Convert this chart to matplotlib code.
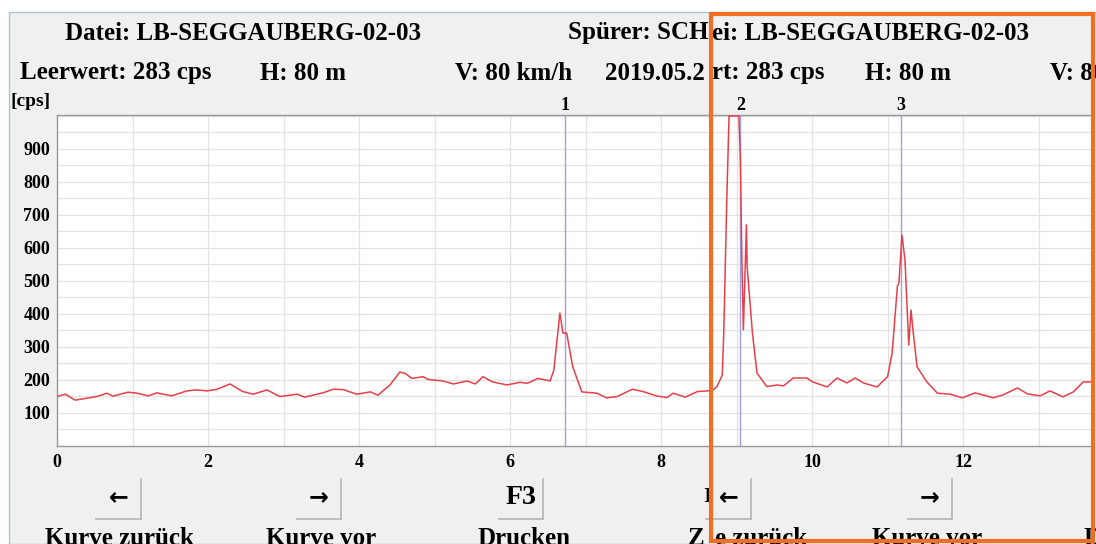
import matplotlib.pyplot as plt
from matplotlib.patches import Rectangle
from matplotlib.lines import Line2D

W, H = 1096, 544

# flight profile: distance [km] vs. counts [cps]
dist_km = [0.00, 0.11, 0.24, 0.40, 0.53, 0.66, 0.74, 0.94, 1.06, 1.21, 1.32, 1.52, 1.72, 1.85,
           1.99, 2.12, 2.29, 2.46, 2.60, 2.78, 2.95, 3.18, 3.28, 3.52, 3.66, 3.79, 3.97, 4.15,
           4.25, 4.41, 4.54, 4.61, 4.70, 4.85, 4.91, 5.11, 5.25, 5.43, 5.54, 5.64, 5.77, 5.96,
           6.13, 6.23, 6.37, 6.53, 6.58, 6.66, 6.70, 6.75, 6.83, 6.95, 7.15, 7.28, 7.42, 7.62,
           7.76, 7.95, 8.08, 8.16, 8.32, 8.48, 8.62, 8.69, 8.74, 8.81, 8.83, 8.87, 8.90, 9.03,
           9.05, 9.07, 9.09, 9.13, 9.14, 9.21, 9.27, 9.40, 9.54, 9.62, 9.75, 9.93, 10.01, 10.20,
           10.33, 10.46, 10.57, 10.68, 10.77, 10.86, 11.00, 11.06, 11.13, 11.15, 11.19, 11.23,
           11.28, 11.31, 11.34, 11.39, 11.52, 11.66, 11.83, 11.99, 12.16, 12.40, 12.53, 12.72,
           12.85, 13.02, 13.15, 13.32, 13.46, 13.59, 13.71]
cps = [150, 157, 139, 145, 150, 160, 151, 163, 160, 152, 161, 152, 167, 170,
       167, 172, 188, 165, 157, 170, 150, 157, 148, 161, 172, 171, 157, 164,
       154, 185, 224, 220, 205, 210, 202, 197, 188, 197, 188, 210, 194, 185,
       193, 190, 205, 197, 230, 403, 342, 342, 240, 164, 160, 146, 150, 172,
       165, 151, 147, 160, 148, 165, 167, 170, 180, 215, 342, 745, 1000, 1000,
       867, 564, 352, 670, 543, 342, 221, 180, 185, 182, 206, 206, 194, 179,
       206, 191, 206, 191, 185, 179, 210, 282, 485, 494, 639, 564,
       306, 412, 342, 240, 194, 160, 157, 146, 161, 146, 155, 176,
       158, 152, 167, 149, 164, 194, 194]

marker_pos = [6.73, 9.05, 11.18]
marker_labels = ["1", "2", "3"]
x_ticks = [0, 2, 4, 6, 8, 10, 12]
y_ticks = [100, 200, 300, 400, 500, 600, 700, 800, 900]

SERIF = "Liberation Serif"


def fx(px):
    return px / W


def fy(py):
    return 1 - py / H


fig = plt.figure(figsize=(W / 100, H / 100), dpi=100, facecolor="white")

# program window background
fig.patches.append(Rectangle((fx(9), 0), 1, fy(12), transform=fig.transFigure,
                             facecolor="#f0f0f0", edgecolor="#a9c6d0", lw=1, zorder=-5))

ax = fig.add_axes([fx(57), fy(446), fx(1093) - fx(57), fy(115) - fy(446)], zorder=2)
ax.set_facecolor("white")
ax.plot(dist_km, cps, color="#e5404a", lw=1.1, zorder=3)
for xp, lab in zip(marker_pos, marker_labels):
    ax.axvline(xp, color="#9d9de8", lw=1, zorder=2)
    ax.text(xp, 1.004, lab, transform=ax.get_xaxis_transform(), ha="center", va="bottom",
            fontsize=13, fontweight="bold", family=SERIF)

ax.set_xlim(0, 13.72)
ax.set_ylim(0, 1003)
ax.set_xticks(x_ticks)
ax.set_xticks(range(1, 14), minor=True)
ax.set_yticks(y_ticks)
ax.set_yticks(range(50, 1001, 50), minor=True)
ax.grid(True, which="both", color="#e2e2e2", lw=0.9, zorder=1)
ax.set_axisbelow(True)
ax.tick_params(which="both", length=0)
ax.tick_params(axis="y", pad=5)
ax.tick_params(axis="x", pad=6)
for lab in ax.get_xticklabels() + ax.get_yticklabels():
    lab.set_fontfamily(SERIF)
    lab.set_fontweight("bold")
    lab.set_fontsize(13)
for s in ax.spines.values():
    s.set_color("#9a9a9a")
    s.set_linewidth(1)


def label(px, py, s, size=18, ha="left", va="center", family=SERIF):
    fig.text(fx(px), fy(py), s, ha=ha, va=va, fontsize=size, fontweight="bold", family=family)


# header lines
label(65, 33, "Datei: LB-SEGGAUBERG-02-03")
label(568, 33, "Spürer: SCH")
label(712, 33, "ei: LB-SEGGAUBERG-02-03")
label(20, 73, "Leerwert: 283 cps")
label(260, 73, "H: 80 m")
label(455, 73, "V: 80 km/h")
label(605, 73, "2019.05.2")
label(712, 73, "rt: 283 cps")
label(865, 73, "H: 80 m")
label(1050, 73, "V: 80")
label(10, 102, "[cps]", size=14)


# buttons along the bottom
def button(x0, x1, s, size=17, family="DejaVu Sans"):
    for xs, ys in (([x1, x1], [479, 519]), ([x0, x1], [519, 519])):
        fig.add_artist(Line2D([fx(v) for v in xs], [fy(v) for v in ys],
                              color="#b4b4b4", lw=1.2))
    label((x0 + x1) / 2, 497, s, size=size, ha="center", family=family)


button(96, 141, "←")
button(297, 341, "→")
button(499, 543, "F3", size=20, family=SERIF)
button(706, 751, "←")
button(908, 952, "→")
label(703, 497, "I", size=16)

label(45, 527, "Kurve zurück", va="top")
label(266, 527, "Kurve vor", va="top")
label(477, 527, "Drucken", va="top")
label(688, 527, "Z", va="top")
label(715, 527, "e zurück", va="top")
label(872, 527, "Kurve vor", va="top")
label(1084, 527, "D", va="top")

# highlight frame
fig.patches.append(Rectangle((fx(711), fy(541)), fx(1093) - fx(711), fy(14) - fy(541),
                             transform=fig.transFigure, facecolor="none",
                             edgecolor="#f26f21", lw=3, zorder=10))

fig.savefig("out.png", dpi=100, facecolor="white")
